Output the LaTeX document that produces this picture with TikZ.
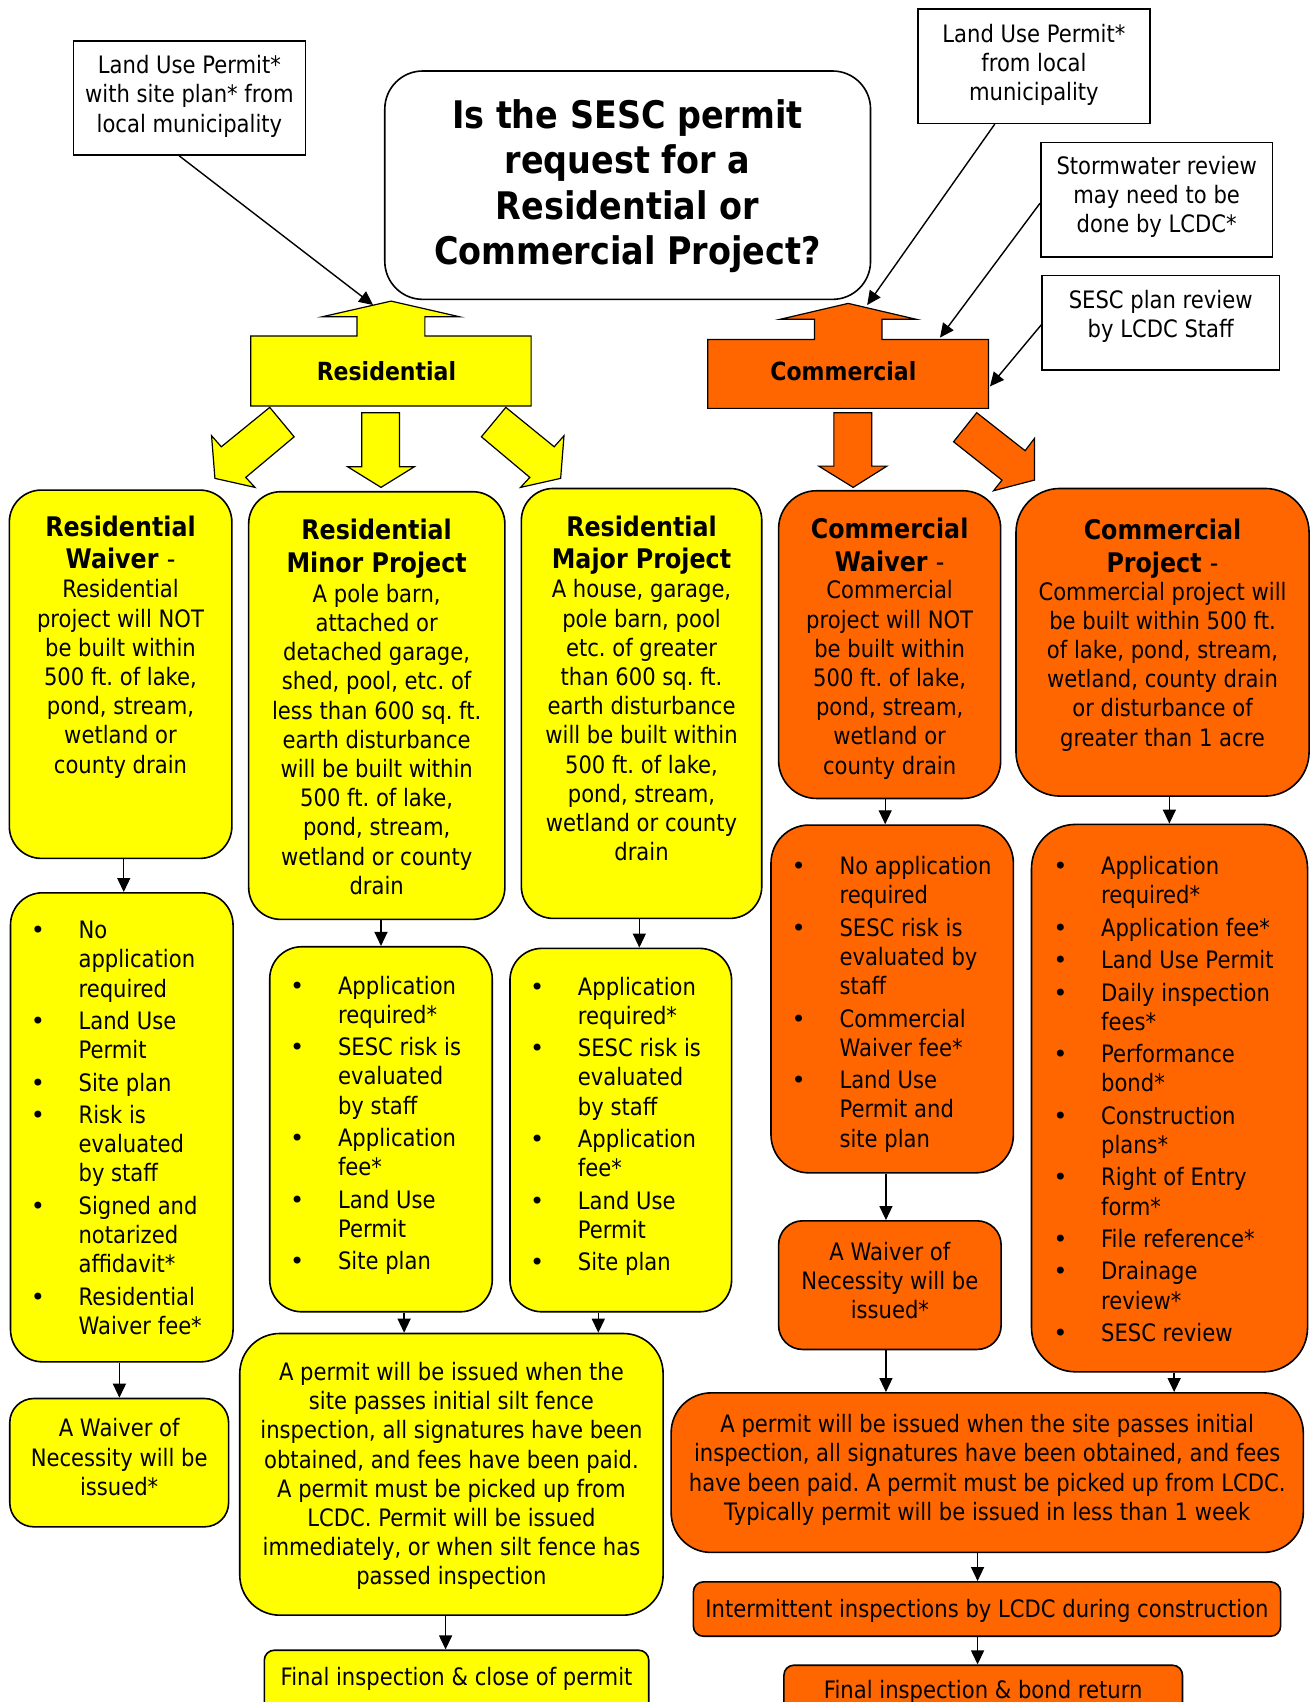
\documentclass[tikz,border=0pt]{standalone}
\usepackage{fontspec}
\setmainfont{DejaVu Sans}[FakeStretch=0.88]
\newfontfamily\bltfont{DejaVu Sans}
\usetikzlibrary{calc,fit,arrows.meta}
\definecolor{resyel}{HTML}{FFFF00}
\definecolor{comorg}{HTML}{FF6600}
\frenchspacing
\newcommand{\txtbody}{\fontsize{12}{14.6}\selectfont}
\newcommand{\txthead}{\fontsize{13.5}{16.3}\selectfont\bfseries}
\newcommand{\txttitle}{\fontsize{19}{22.6}\selectfont\bfseries}
\newcommand{\blt}{{\bltfont\textbullet}}
\newenvironment{blist}{\begin{tabular}{@{}p{23.9pt}@{}l@{}}}{\end{tabular}}

\tikzset{
  box/.style={draw=black, line width=0.8pt, inner sep=0pt, rounded corners=16pt},
  resbox/.style={box, fill=resyel},
  combox/.style={box, fill=comorg},
  note/.style={draw=black, line width=0.8pt, fill=white, inner sep=0pt},
  body/.style={inner sep=0pt, align=center, font=\txtbody},
  head/.style={inner sep=0pt, align=center, font=\txthead},
  listtxt/.style={inner sep=0pt, anchor=north west, font=\txtbody},
  conn/.style={draw=black, line width=0.7pt, -{Triangle[length=7pt,width=6.5pt]}},
  blockres/.style={draw=black, line width=0.6pt, fill=resyel, line join=miter},
  blockcom/.style={draw=black, line width=0.6pt, fill=comorg, line join=miter},
}

\begin{document}
\begin{tikzpicture}[x=0.54267pt, y=-0.54267pt]
\fill[white] (0,0) rectangle (1207,1568);
\useasboundingbox (0,0) rectangle (1207,1568);

% ---------- question ----------
\node[box, fill=white, rounded corners=19pt, fit={(354.5,65.4) (802,275.8)}] (question) {};
\node[inner sep=0pt, align=center, font=\txttitle, anchor=north] (questiont) at (578,89)
  {\strut Is the SESC permit\\request for a\\Residential or\\Commercial Project?};

% ---------- side notes ----------
\node[note, fit={(67.6,37.5) (281.5,142.8)}] (note1) {};
\node[body, anchor=north] (note1t) at (174.5,48.6) {\strut Land Use Permit*\\with site plan* from\\local municipality};
\node[note, fit={(845.5,8.3) (1059.4,113.6)}] (note2) {};
\node[body, anchor=north] (note2t) at (952.5,19.6) {\strut Land Use Permit*\\from local\\municipality};
\node[note, fit={(958.8,131.1) (1172.4,236.5)}] (note3) {};
\node[body, anchor=north] (note3t) at (1065.6,141.6) {\strut Stormwater review\\may need to be\\done by LCDC*};
\node[note, fit={(960,253.7) (1178.6,340.9)}] (note4) {};
\node[body, anchor=north] (note4t) at (1069.3,264.6) {\strut SESC plan review\\by LCDC Staff};

% ---------- branch boxes with their up arrows ----------
\draw[blockres] (231,374.1) -- (231,309.6) -- (328.9,309.6) -- (328.9,291.8) -- (297,291.8)
  -- (360.3,277.4) -- (423.2,291.8) -- (391.4,291.8) -- (391.4,309.6) -- (489.3,309.6)
  -- (489.3,374.1) -- cycle;
\node[inner sep=0pt, font=\fontsize{12.5}{14.6}\selectfont\bfseries] (reslabel) at (356,342) {Residential};
\draw[blockcom] (652.1,376.2) -- (652.1,312.7) -- (750.3,312.7) -- (750.3,294.2) -- (718.5,294.2)
  -- (781.4,279.5) -- (844.3,294.2) -- (812.5,294.2) -- (812.5,312.7) -- (910.7,312.7)
  -- (910.7,376.2) -- cycle;
\node[inner sep=0pt, font=\fontsize{12.5}{14.6}\selectfont\bfseries] (comlabel) at (777,342) {Commercial};

\coordinate (resin) at (343.7,281);
\coordinate (comin1) at (798.9,281);
\coordinate (comin2) at (866,311);
\coordinate (comin3) at (912,356);
\draw[conn] ($(note1.south)+(-9.5,0)$) -- (resin);
\draw[conn] ($(note2.south)+(-36,0)$) -- (comin1);
\draw[conn] ($(note3.west)+(0,3.5)$) -- (comin2);
\draw[conn] ($(note4.west)+(0,2)$) -- (comin3);

% ---------- down block arrows ----------
\draw[blockres] (248.5,375.3) -- (271,402.4) -- (226.4,439.8) -- (234.9,449) -- (198,440.7)
  -- (194.9,401.4) -- (203.9,411.6) -- cycle;
\draw[blockres] (333.2,380.2) -- (368.1,380.2) -- (368.1,430) -- (381.7,430) -- (351,449)
  -- (320.3,430) -- (333.2,430) -- cycle;
\draw[blockres] (466,375.3) -- (443.5,402.4) -- (488.1,439.8) -- (479.6,449) -- (516.5,440.7)
  -- (519.6,401.4) -- (510.6,411.6) -- cycle;
\draw[blockcom] (768.2,380.2) -- (803.2,380.2) -- (803.2,429.4) -- (817.1,429.4) -- (786,449)
  -- (754.3,429.4) -- (768.2,429.4) -- cycle;
\draw[blockcom] (899.8,380.2) -- (878.5,407) -- (923.1,442.3) -- (915.3,452.1) -- (953,442.3)
  -- (953,403.9) -- (944.4,415.2) -- cycle;

% ---------- project categories ----------
\node[resbox, fit={(8.6,451.5) (213.6,790.8)}] (reswaiver) {};
\node[head, anchor=north] (reswaiverh) at (111,472.7) {\strut Residential\\Waiver \textmd{-}};
\node[body, anchor=north] (reswaiverb) at (111,531.6)
  {\strut Residential\\project will NOT\\be built within\\500 ft. of lake,\\pond, stream,\\wetland or\\county drain};

\node[resbox, fit={(229.1,453) (465.1,847)}] (minor) {};
\node[head, anchor=north] (minorh) at (347,475.7) {\strut Residential\\Minor Project};
\node[body, anchor=north] (minorb) at (347,535.6)
  {\strut A pole barn,\\attached or\\detached garage,\\shed, pool, etc. of\\less than 600 sq. ft.\\earth disturbance\\will be built within\\500 ft. of lake,\\pond, stream,\\wetland or county\\drain};

\node[resbox, fit={(480.3,450) (701.8,846.1)}] (major) {};
\node[head, anchor=north] (majorh) at (591,472.7) {\strut Residential\\Major Project};
\node[body, anchor=north] (majorb) at (591,531.6)
  {\strut A house, garage,\\pole barn, pool\\etc. of greater\\than 600 sq. ft.\\earth disturbance\\will be built within\\500 ft. of lake,\\pond, stream,\\wetland or county\\drain};

\node[combox, rounded corners=19pt, fit={(717.3,452.1) (921.9,735.6)}] (comwaiver) {};
\node[head, anchor=north] (comwaiverh) at (819.6,474.7) {\strut Commercial\\Waiver \textmd{-}};
\node[body, anchor=north] (comwaiverb) at (819.6,532.6)
  {\strut Commercial\\project will NOT\\be built within\\500 ft. of lake,\\pond, stream,\\wetland or\\county drain};

\node[combox, rounded corners=22pt, fit={(936,450) (1206,733.4)}] (comproj) {};
\node[head, anchor=north] (comprojh) at (1071,475.7) {\strut Commercial\\Project \textmd{-}};
\node[body, anchor=north] (comprojb) at (1071,533.6)
  {\strut Commercial project will\\be built within 500 ft.\\of lake, pond, stream,\\wetland, county drain\\or disturbance of\\greater than 1 acre};

% ---------- requirement lists ----------
\node[resbox, fit={(9.7,822.5) (214.7,1254.6)}] (reslist) {};
\node[listtxt] (reslistt) at (28,845.6) {\begin{blist}
\blt & No\\ & application\\ & required\\[1.6pt]
\blt & Land Use\\ & Permit\\[1.6pt]
\blt & Site plan\\[1.6pt]
\blt & Risk is\\ & evaluated\\ & by staff\\[1.6pt]
\blt & Signed and\\ & notarized\\ & affidavit*\\[1.6pt]
\blt & Residential\\ & Waiver fee*
\end{blist}};

\node[resbox, fit={(248.5,872.2) (453.5,1208.5)}] (minorlist) {};
\node[listtxt] (minorlistt) at (267,896.6) {\begin{blist}
\blt & Application\\ & required*\\[1.6pt]
\blt & SESC risk is\\ & evaluated\\ & by staff\\[1.6pt]
\blt & Application\\ & fee*\\[1.6pt]
\blt & Land Use\\ & Permit\\[1.6pt]
\blt & Site plan
\end{blist}};

\node[resbox, fit={(469.8,873.7) (674,1208.5)}] (majorlist) {};
\node[listtxt] (majorlistt) at (488,897.6) {\begin{blist}
\blt & Application\\ & required*\\[1.6pt]
\blt & SESC risk is\\ & evaluated\\ & by staff\\[1.6pt]
\blt & Application\\ & fee*\\[1.6pt]
\blt & Land Use\\ & Permit\\[1.6pt]
\blt & Site plan
\end{blist}};

\node[combox, rounded corners=19pt, fit={(710.3,760.1) (933.6,1080.5)}] (comlist) {};
\node[listtxt] (comlistt) at (729,786.6) {\begin{blist}
\blt & No application\\ & required\\[1.6pt]
\blt & SESC risk is\\ & evaluated by\\ & staff\\[1.6pt]
\blt & Commercial\\ & Waiver fee*\\[1.6pt]
\blt & Land Use\\ & Permit and\\ & site plan
\end{blist}};

\node[combox, rounded corners=22pt, fit={(950.3,759.5) (1204.6,1263.8)}] (comprojlist) {};
\node[listtxt] (comprojlistt) at (970,786.6) {\begin{blist}
\blt & Application\\ & required*\\[1.6pt]
\blt & Application fee*\\[1.6pt]
\blt & Land Use Permit\\[1.6pt]
\blt & Daily inspection\\ & fees*\\[1.6pt]
\blt & Performance\\ & bond*\\[1.6pt]
\blt & Construction\\ & plans*\\[1.6pt]
\blt & Right of Entry\\ & form*\\[1.6pt]
\blt & File reference*\\[1.6pt]
\blt & Drainage\\ & review*\\[1.6pt]
\blt & SESC review
\end{blist}};

% ---------- outcomes ----------
\node[resbox, rounded corners=12pt, fit={(9,1288.4) (210.6,1406.6)}] (resnec) {};
\node[body, anchor=north] (resnect) at (109.8,1304.6) {\strut A Waiver of\\Necessity will be\\issued*};

\node[combox, rounded corners=12pt, fit={(717.3,1124.7) (922.3,1243.2)}] (comnec) {};
\node[body, anchor=north] (comnect) at (819.8,1141.6) {\strut A Waiver of\\Necessity will be\\issued*};

\node[resbox, rounded corners=20pt, fit={(220.9,1228.5) (610.9,1488)}] (respermit) {};
\node[body, anchor=north] (respermitt) at (415.9,1252.6)
  {\strut A permit will be issued when the\\site passes initial silt fence\\inspection, all signatures have been\\obtained, and fees have been paid.\\A permit must be picked up from\\LCDC. Permit will be issued\\immediately, or when silt fence has\\passed inspection};

\node[combox, rounded corners=20pt, fit={(618.3,1283.2) (1200.7,1430.2)}] (compermit) {};
\node[body, anchor=north] (compermitt) at (909.5,1300.6)
  {\strut A permit will be issued when the site passes initial\\inspection, all signatures have been obtained, and fees\\have been paid. A permit must be picked up from LCDC.\\Typically permit will be issued in less than 1 week};

\node[combox, rounded corners=5pt, fit={(638.8,1457.3) (1179.8,1507.4)}] (inspect) {};
\node[body, anchor=north] (inspectt) at (909.3,1470.6) {\strut Intermittent inspections by LCDC during construction};

\node[resbox, rounded corners=5pt, fit={(243.5,1520.3) (597.7,1590)}] (resfinal) {};
\node[body, anchor=north] (resfinalt) at (420.6,1533.6) {\strut Final inspection \& close of permit};

\node[combox, rounded corners=5pt, fit={(722.2,1534.1) (1089.4,1600)}] (comfinal) {};
\node[body, anchor=north] (comfinalt) at (905.8,1545.6) {\strut Final inspection \& bond return};

% ---------- connectors ----------
\coordinate (xa) at (114,0);
\coordinate (xb) at (110,0);
\coordinate (xc) at (351,0);
\coordinate (xd) at (589,0);
\coordinate (xe) at (372.3,0);
\coordinate (xf) at (551.2,0);
\coordinate (xg) at (410.5,0);
\coordinate (xh) at (815.5,0);
\coordinate (xi) at (816.2,0);
\coordinate (xj) at (1077.3,0);
\coordinate (xk) at (1081.7,0);
\coordinate (xl) at (900.6,0);

\draw[conn] (reswaiver.south -| xa) -- (reslist.north -| xa);
\draw[conn] (reslist.south -| xb) -- (resnec.north -| xb);
\draw[conn] (minor.south -| xc) -- (minorlist.north -| xc);
\draw[conn] (major.south -| xd) -- (majorlist.north -| xd);
\draw[conn] (minorlist.south -| xe) -- (respermit.north -| xe);
\draw[conn] (majorlist.south -| xf) -- (respermit.north -| xf);
\draw[conn] (respermit.south -| xg) -- (resfinal.north -| xg);
\draw[conn] (comwaiver.south -| xh) -- (comlist.north -| xh);
\draw[conn] (comlist.south -| xi) -- (comnec.north -| xi);
\draw[conn] (comnec.south -| xi) -- (compermit.north -| xi);
\draw[conn] (comproj.south -| xj) -- (comprojlist.north -| xj);
\draw[conn] (comprojlist.south -| xk) -- (compermit.north -| xk);
\draw[conn] (compermit.south -| xl) -- (inspect.north -| xl);
\draw[conn] (inspect.south -| xl) -- (comfinal.north -| xl);
\end{tikzpicture}
\end{document}
